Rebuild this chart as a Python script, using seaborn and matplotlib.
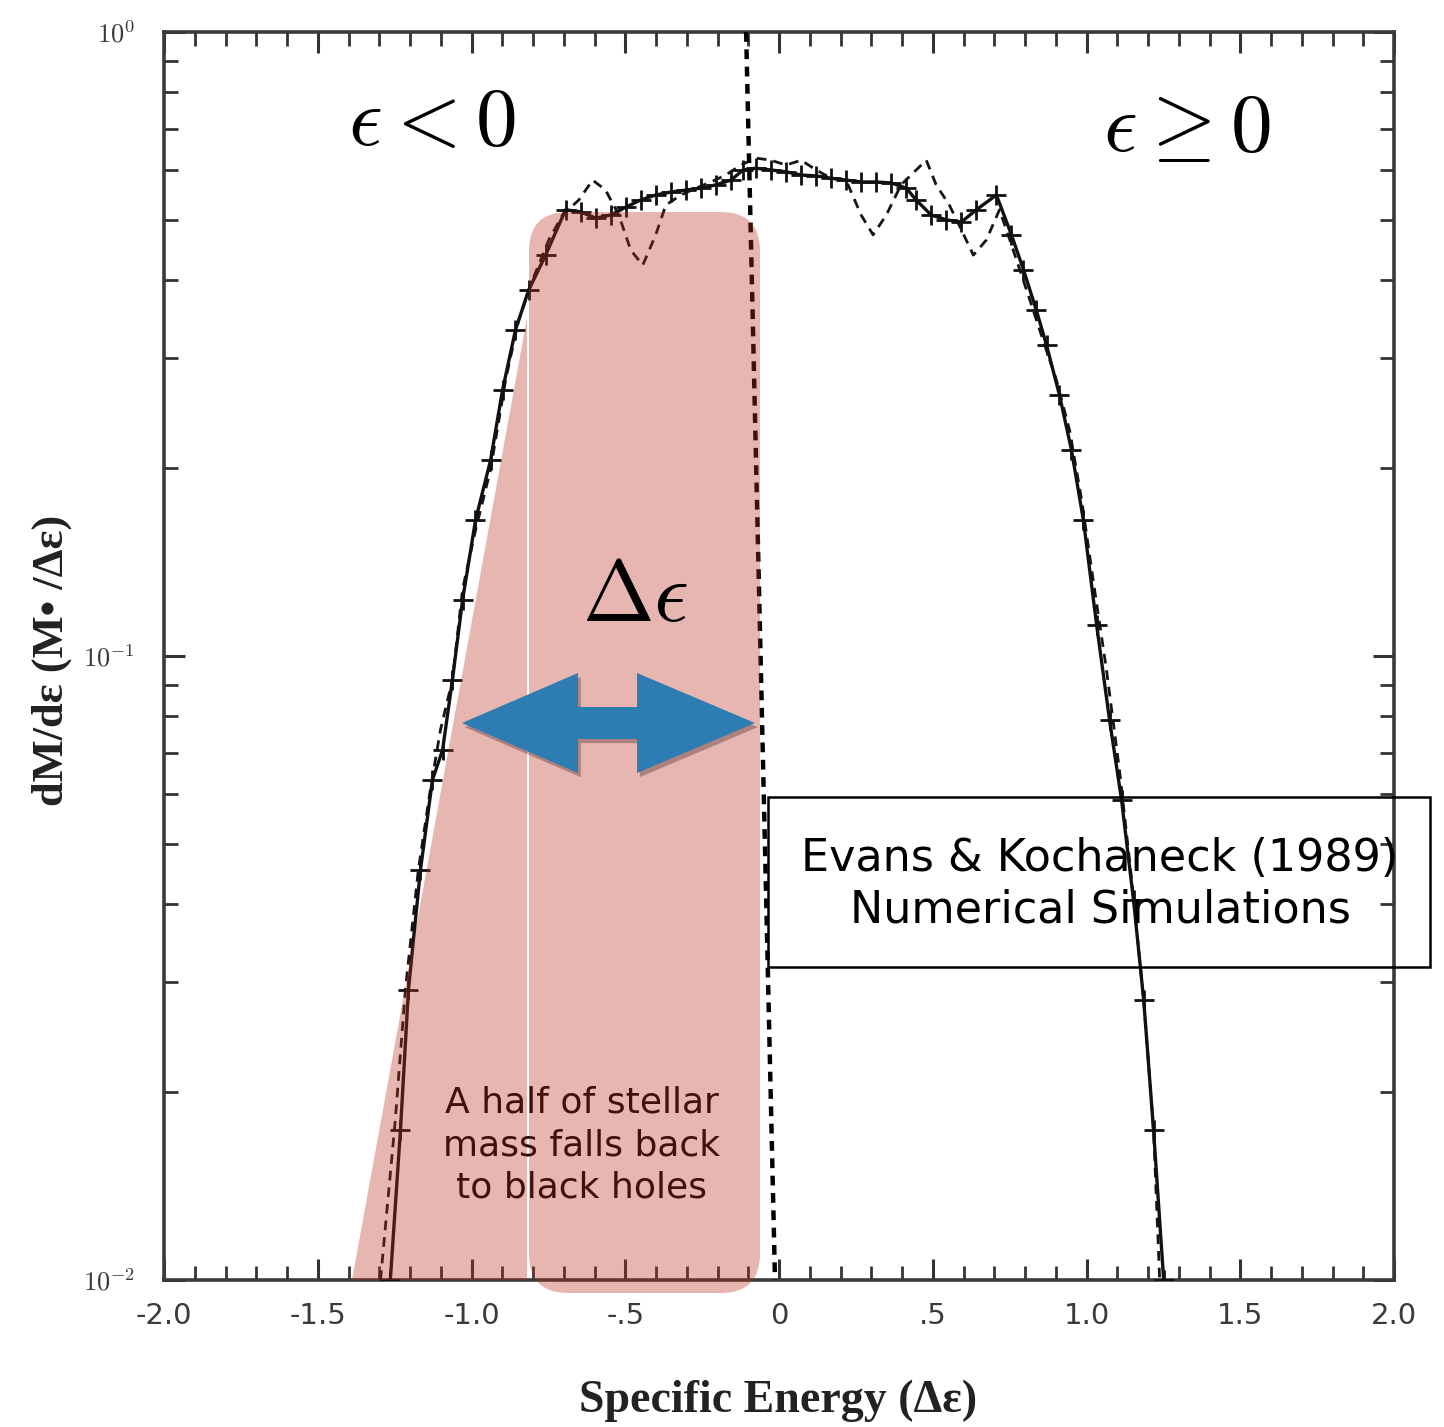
import numpy as np
import pandas as pd
import matplotlib
matplotlib.use("Agg")
import matplotlib.pyplot as plt
import matplotlib.patches as mpatches
import matplotlib.patheffects as pe
from matplotlib.ticker import FixedLocator, FixedFormatter, LogLocator, NullFormatter, MultipleLocator
import seaborn as sns

# ---------------- data ----------------
solid_x = [-1.264, -1.231, -1.205, -1.166, -1.127, -1.094, -1.062, -1.029, -0.987, -0.938,
           -0.899, -0.857, -0.814, -0.759, -0.694, -0.645, -0.596, -0.547, -0.498, -0.450,
           -0.401, -0.352, -0.303, -0.254, -0.205, -0.156, -0.117, -0.075, -0.026, 0.023,
           0.072, 0.121, 0.169, 0.218, 0.267, 0.316, 0.365, 0.414, 0.446, 0.495,
           0.544, 0.593, 0.642, 0.707, 0.756, 0.795, 0.837, 0.870, 0.912, 0.951,
           0.990, 1.033, 1.075, 1.114, 1.153, 1.186, 1.218, 1.251]
solid_y = [0.0100, 0.0174, 0.0292, 0.0454, 0.0633, 0.0707, 0.0916, 0.123, 0.165, 0.206,
           0.267, 0.333, 0.386, 0.439, 0.519, 0.515, 0.503, 0.509, 0.524, 0.538,
           0.548, 0.554, 0.558, 0.562, 0.569, 0.579, 0.601, 0.605, 0.601, 0.597,
           0.590, 0.588, 0.583, 0.579, 0.575, 0.575, 0.573, 0.562, 0.538, 0.509,
           0.500, 0.496, 0.519, 0.548, 0.473, 0.416, 0.358, 0.315, 0.262, 0.214,
           0.165, 0.112, 0.0789, 0.0588, 0.0406, 0.0281, 0.0174, 0.0100]

dashed_x = [-1.296, -1.248, -1.215, -1.173, -1.134, -1.101, -1.062, -1.029, -0.987, -0.938,
            -0.889, -0.847, -0.801, -0.749, -0.704, -0.651, -0.606, -0.564, -0.521, -0.482,
            -0.443, -0.401, -0.368, -0.319, -0.270, -0.221, -0.173, -0.124, -0.075, -0.026,
            0.023, 0.072, 0.121, 0.169, 0.218, 0.267, 0.306, 0.349, 0.397, 0.446,
            0.479, 0.511, 0.554, 0.593, 0.632, 0.674, 0.717, 0.756, 0.805, 0.853,
            0.902, 0.945, 0.984, 1.026, 1.065, 1.107, 1.147, 1.186, 1.218, 1.238]
dashed_y = [0.0100, 0.0180, 0.0292, 0.0454, 0.0610, 0.0761, 0.0916, 0.128, 0.159, 0.199,
            0.277, 0.345, 0.401, 0.464, 0.509, 0.538, 0.579, 0.558, 0.509, 0.447,
            0.423, 0.473, 0.528, 0.548, 0.562, 0.575, 0.590, 0.612, 0.628, 0.623,
            0.612, 0.623, 0.601, 0.583, 0.579, 0.509, 0.473, 0.509, 0.569, 0.601,
            0.623, 0.569, 0.528, 0.482, 0.439, 0.464, 0.519, 0.456, 0.386, 0.327,
            0.277, 0.230, 0.178, 0.128, 0.0950, 0.0657, 0.0438, 0.0281, 0.0174, 0.0100]

x_ticks = [-2.0, -1.5, -1.0, -0.5, 0.0, 0.5, 1.0, 1.5, 2.0]
x_tick_labels = ["-2.0", "-1.5", "-1.0", "-.5", "0", ".5", "1.0", "1.5", "2.0"]
y_ticks = [1e-2, 1e-1, 1e0]
y_tick_labels = [r"$10^{-2}$", r"$10^{-1}$", r"$10^{0}$"]

# ---------------- figure ----------------
sns.set_theme(style="ticks")
plt.rcParams["font.family"] = ["DejaVu Sans"]
plt.rcParams["mathtext.fontset"] = "cm"

W, H = 1444, 1427
fig = plt.figure(figsize=(W / 100, H / 100), dpi=100)
fig.patch.set_facecolor("white")

def P(px, py):
    return (px / W, 1 - py / H)

L, R, T, B = 164, 1394, 32, 1280
ax = fig.add_axes([L / W, 1 - B / H, (R - L) / W, (B - T) / H])
ax.set_facecolor("white")

df_s = pd.DataFrame({"x": solid_x, "y": solid_y})
df_d = pd.DataFrame({"x": dashed_x, "y": dashed_y})
sns.lineplot(data=df_d, x="x", y="y", ax=ax, color="#151515", lw=2.0,
             linestyle=(0, (3.5, 2.5)), zorder=3, estimator=None)
sns.lineplot(data=df_s, x="x", y="y", ax=ax, color="#111111", lw=2.4,
             marker="+", markersize=14, markeredgewidth=2.0, markeredgecolor="#111111",
             zorder=4, estimator=None)

ax.set_yscale("log")
ax.set_xlim(-2, 2)
ax.set_ylim(1e-2, 1e0)

ax.xaxis.set_major_locator(FixedLocator(x_ticks))
ax.xaxis.set_major_formatter(FixedFormatter(x_tick_labels))
ax.xaxis.set_minor_locator(MultipleLocator(0.1))
ax.yaxis.set_major_locator(FixedLocator(y_ticks))
ax.yaxis.set_major_formatter(FixedFormatter(y_tick_labels))
ax.yaxis.set_minor_locator(LogLocator(base=10, subs=np.arange(2, 10)))
ax.yaxis.set_minor_formatter(NullFormatter())

ax.tick_params(which="both", direction="in", top=True, right=True, color="#333333")
ax.tick_params(which="major", length=15, width=2.2)
ax.tick_params(which="minor", length=10, width=2.0)
ax.tick_params(axis="x", which="major", labelsize=21, pad=16, labelcolor="#3a3a3a")
ax.tick_params(axis="y", which="major", labelsize=19, pad=21, labelcolor="#3a3a3a")
for s in ax.spines.values():
    s.set_linewidth(2.6)
    s.set_color("#3a3a3a")

ax.set_xlabel("Specific Energy (Δε)", fontsize=33, fontweight="bold",
              family="Liberation Serif", color="#222222")
ax.xaxis.set_label_coords((778 - L) / (R - L), -(1380 - B) / (B - T))
ax.set_ylabel("dM/dε (M• /Δε)", fontsize=32, fontweight="bold",
              family="Liberation Serif", color="#222222")
ax.yaxis.set_label_coords(-(164 - 72) / (R - L), (B - 660) / (B - T))

# dotted separator (epsilon = 0 boundary drawn in the figure)
ax.plot([-0.107, -0.013], [1.0, 0.01], color="black", lw=3.2,
        linestyle=(0, (2.2, 1.7)), zorder=5, solid_capstyle="butt", clip_on=False)

# text that sits under the pink overlay
fig.text(*P(582, 1145), "A half of stellar\nmass falls back\nto black holes",
         ha="center", va="center", fontsize=26, color="black",
         linespacing=1.32, family="DejaVu Sans", zorder=6)

# pink overlay shapes
pink = "#bd2e20"
tri = mpatches.Polygon([P(352, 1280), P(527, 318), P(527, 1280)], closed=True,
                       transform=fig.transFigure, facecolor=pink, alpha=0.35,
                       edgecolor="none", zorder=10)
fig.patches.append(tri)
x0, y0 = P(529, 1293)
x1, y1 = P(760, 212)
rect = mpatches.FancyBboxPatch((x0, y0), x1 - x0, y1 - y0,
                               boxstyle="round,pad=0,rounding_size=0.027",
                               mutation_aspect=W / H,
                               transform=fig.transFigure, facecolor=pink, alpha=0.35,
                               edgecolor="none", zorder=10)
fig.patches.append(rect)

# blue double arrow
arrow_pts = [P(462, 723), P(578, 673), P(578, 707), P(637, 707), P(637, 673),
             P(755, 723), P(637, 773), P(637, 739), P(578, 739), P(578, 773)]
arrow = mpatches.Polygon(arrow_pts, closed=True, transform=fig.transFigure,
                         facecolor="#2e7db2", edgecolor="none", zorder=12)
arrow.set_path_effects([pe.SimplePatchShadow(offset=(2, -3), alpha=0.35, shadow_rgbFace="#402020"),
                        pe.Normal()])
fig.patches.append(arrow)

# math labels
fig.text(*P(432, 122), r"$\epsilon < 0$", ha="center", va="center",
         fontsize=60, color="black", zorder=13)
fig.text(*P(1187, 128), r"$\epsilon \geq 0$", ha="center", va="center",
         fontsize=60, color="black", zorder=13)
fig.text(*P(635, 598), r"$\Delta\epsilon$", ha="center", va="center",
         fontsize=62, color="black", zorder=13)

# citation box
bx0, by0 = P(768, 967)
bx1, by1 = P(1430, 797)
box = mpatches.Rectangle((bx0, by0), bx1 - bx0, by1 - by0, transform=fig.transFigure,
                         facecolor="none", edgecolor="black", lw=1.8, zorder=13)
fig.patches.append(box)
fig.text(*P(1100, 884), "Evans & Kochaneck (1989)\nNumerical Simulations",
         ha="center", va="center", fontsize=32, color="black",
         linespacing=1.25, family="DejaVu Sans", zorder=13)

fig.savefig("out.png", dpi=100, facecolor="white")
